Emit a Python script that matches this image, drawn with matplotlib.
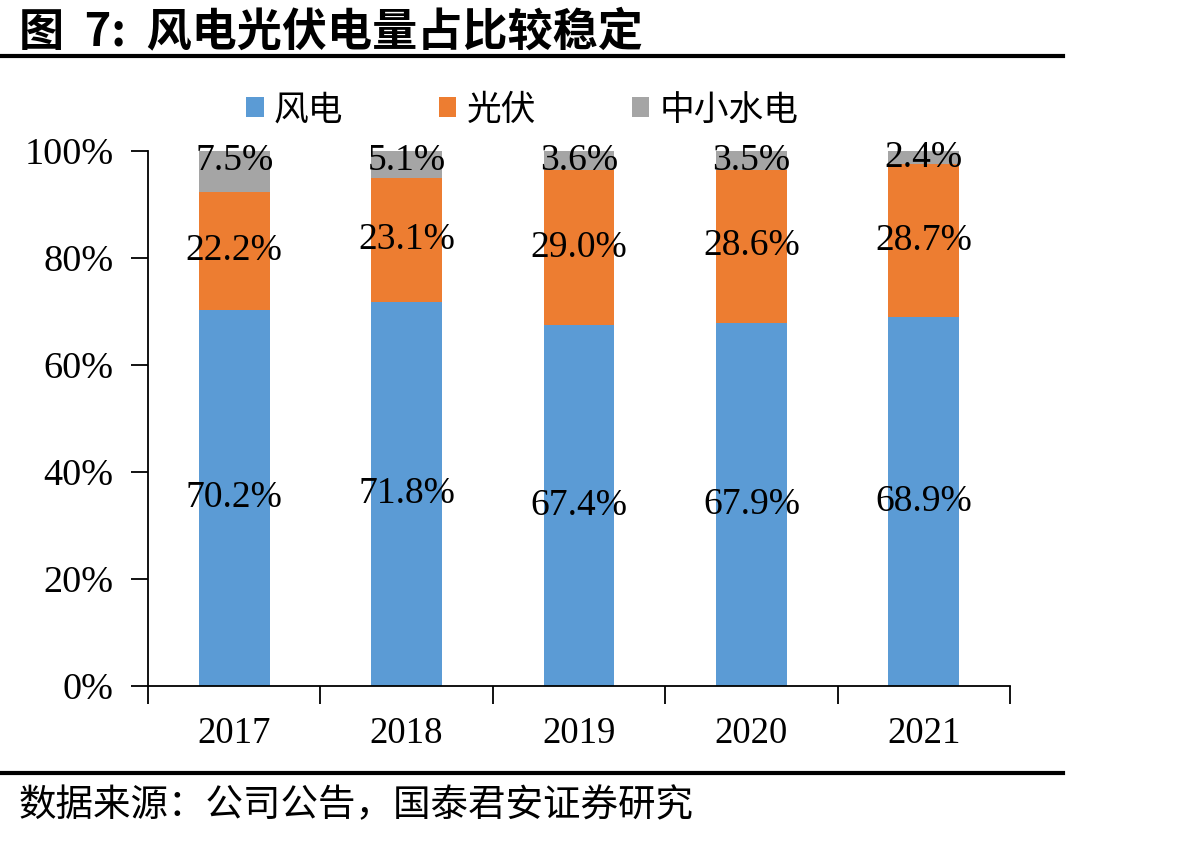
import matplotlib
matplotlib.use('Agg')
import matplotlib.pyplot as plt
import numpy as np
from matplotlib.patches import Patch
from matplotlib.ticker import FixedLocator, PercentFormatter

# data (shares, %)
years = ['2017', '2018', '2019', '2020', '2021']
wind = [70.2, 71.8, 67.4, 67.9, 68.9]
solar = [22.2, 23.1, 29.0, 28.6, 28.7]
hydro = [7.5, 5.1, 3.6, 3.5, 2.4]
series_names = ['风电', '光伏', '中小水电']
colors = ['#5B9BD5', '#ED7D31', '#A5A5A5']

title = '图  7:  风电光伏电量占比较稳定'
source = '数据来源：公司公告，国泰君安证券研究'

CJK = ['Noto Sans CJK SC', 'DejaVu Sans']
NUM = ['Liberation Serif', 'DejaVu Serif']

fig = plt.figure(figsize=(11.82, 8.41), dpi=100)
ax = fig.add_axes([0.1252, 0.1843, 0.7293, 0.6362])

x = np.arange(len(years))
width = 0.41
bottom = np.zeros(len(years))
for vals, name, c in zip([wind, solar, hydro], series_names, colors):
    vals = np.array(vals) / 100.0
    ax.bar(x, vals, width=width, bottom=bottom, color=c, label=name, zorder=2)
    for xi, b, v in zip(x, bottom, vals):
        yc = b + v / 2
        if name == '中小水电':
            yc = max(yc, 0.982)
        ax.text(xi, yc, f'{v * 100:.1f}%', ha='center', va='center',
                fontsize=27, family=NUM, color='black', zorder=3)
    bottom = bottom + vals

ax.set_xlim(-0.5, len(years) - 0.5)
ax.set_ylim(0, 1)
ax.yaxis.set_major_locator(FixedLocator(np.arange(0, 1.01, 0.2)))
ax.yaxis.set_major_formatter(PercentFormatter(1.0, decimals=0))
ax.set_xticks(x)
ax.set_xticklabels(years)
ax.xaxis.set_minor_locator(FixedLocator(np.arange(-0.5, len(years), 1.0)))
ax.tick_params(axis='x', which='major', length=0, pad=22)
ax.tick_params(axis='x', which='minor', length=13, width=1.3, direction='out')
ax.tick_params(axis='y', length=12, width=1.3, direction='out', pad=13)
for lab in ax.get_xticklabels():
    lab.set_fontfamily(NUM)
    lab.set_fontsize(26.5)
for lab in ax.get_yticklabels():
    lab.set_fontfamily(NUM)
    lab.set_fontsize(27.5)

ax.spines['top'].set_visible(False)
ax.spines['right'].set_visible(False)
for s in ['left', 'bottom']:
    ax.spines[s].set_linewidth(1.3)

handles = [Patch(facecolor=c, label=n) for c, n in zip(colors, series_names)]
leg = fig.legend(handles=handles, loc='center', bbox_to_anchor=(0.442, 0.869), ncol=3,
                 frameon=False, prop={'family': CJK, 'size': 25},
                 handlelength=0.5, handleheight=0.5, handletextpad=0.3, columnspacing=2.75)

# title and source text with the rules
fig.text(0.016, 0.962, title, ha='left', va='center', fontsize=32.5, fontweight='bold', family=CJK)
fig.add_artist(plt.Line2D([0, 0.899], [0.934, 0.934], color='black', linewidth=3))
fig.add_artist(plt.Line2D([0, 0.899], [0.081, 0.081], color='black', linewidth=3))
fig.text(0.016, 0.042, source, ha='left', va='center', fontsize=27, family=CJK)

fig.savefig('out.png', dpi=100)
